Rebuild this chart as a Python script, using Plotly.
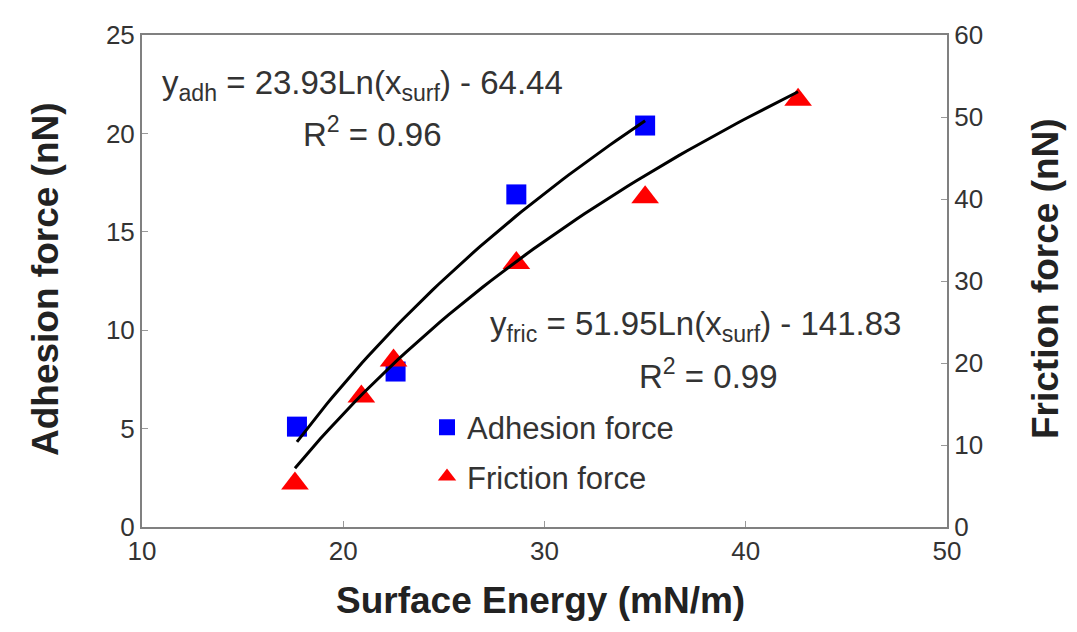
import numpy as np
import plotly.graph_objects as go

# Data
adh_x = [17.7, 22.6, 28.6, 35.0]
adh_y = [5.1, 7.9, 16.9, 20.4]          # left axis (nN)
fric_x = [17.6, 20.9, 22.5, 28.6, 35.0, 42.6]
fric_y = [5.3, 15.9, 20.3, 32.2, 40.2, 52.1]  # right axis (nN)

# Logarithmic trendline coefficients shown on the chart
adh_a, adh_b = 23.93, -64.44
fric_a, fric_b = 51.95, -141.83
adh_range = (17.7, 35.0)
fric_range = (17.6, 42.6)

x_ticks = [10, 20, 30, 40, 50]
y_ticks = [0, 5, 10, 15, 20, 25]
y2_ticks = [0, 10, 20, 30, 40, 50, 60]

xa = np.linspace(adh_range[0], adh_range[1], 60)
xf = np.linspace(fric_range[0], fric_range[1], 60)

# page body has an 8px margin; plot area in window pixels: x 142..947, y 33..527
PL, PR, PT, PB = 142, 947, 33, 527
W, H = 1061, 616
ml, mt = PL - 8, PT - 8
mr = W - ml - (PR - PL)
mb = H - mt - (PB - PT)


def px(xr, yr):
    return (xr - PL) / (PR - PL), (PB - yr) / (PB - PT)


fig = go.Figure()
fig.add_trace(go.Scatter(x=adh_x, y=adh_y, mode="markers", name="Adhesion force",
                         marker=dict(symbol="square", size=20, color="#0000FF"),
                         legendgroup="a"))
fig.add_trace(go.Scatter(x=fric_x, y=fric_y, mode="markers", name="Friction force",
                         marker=dict(symbol="triangle-up", size=24, color="#FF0000"),
                         yaxis="y2", legendgroup="b"))
fig.add_trace(go.Scatter(x=xa, y=adh_a * np.log(xa) + adh_b, mode="lines",
                         line=dict(color="black", width=3), showlegend=False))
fig.add_trace(go.Scatter(x=xf, y=fric_a * np.log(xf) + fric_b, mode="lines",
                         line=dict(color="black", width=3), showlegend=False, yaxis="y2"))

axis_common = dict(showline=True, linecolor="#808080", linewidth=2, ticks="inside",
                   ticklen=6, tickcolor="#999999", showgrid=False, zeroline=False,
                   tickfont=dict(family="Liberation Sans, Arial", size=26, color="#333333"))

lx, ly = px(427, 400)
fig.update_layout(
    width=W, height=H,
    margin=dict(l=ml, r=mr, t=mt, b=mb),
    paper_bgcolor="white", plot_bgcolor="white",
    font=dict(family="Liberation Sans, Arial", color="#222222"),
    xaxis=dict(range=[10, 50], tickvals=x_ticks, mirror=True, **axis_common),
    yaxis=dict(range=[0, 25], tickvals=y_ticks, **axis_common),
    yaxis2=dict(range=[0, 60], tickvals=y2_ticks, overlaying="y", side="right", **axis_common),
    showlegend=True,
    legend=dict(x=lx, y=ly, xanchor="left", yanchor="top",
                font=dict(size=31, color="#333333"), bgcolor="rgba(0,0,0,0)",
                traceorder="grouped", tracegroupgap=6),
)

ann_font = dict(family="Liberation Sans, Arial", size=33, color="#333333")
title_font = dict(family="Liberation Sans, Arial", size=37, color="#222222")
annotations = [
    (160, 83, "y<sub>adh</sub> = 23.93Ln(x<sub>surf</sub>) - 64.44", "left"),
    (372, 130, "R<sup>2</sup> = 0.96", "center"),
    (488, 325, "y<sub>fric</sub> = 51.95Ln(x<sub>surf</sub>) - 141.83", "left"),
    (708, 373, "R<sup>2</sup> = 0.99", "center"),
]
for xr, yr, txt, anc in annotations:
    ax_, ay_ = px(xr, yr)
    fig.add_annotation(x=ax_, y=ay_, xref="paper", yref="paper", text=txt, showarrow=False,
                       xanchor=anc, yanchor="middle", font=ann_font)

# axis titles
tx, ty = px(540, 623)
fig.add_annotation(x=tx, y=ty, xref="paper", yref="paper",
                   text="<b>Surface Energy (mN/m)</b>", showarrow=False, font=title_font,
                   xanchor="center", yanchor="bottom")
tx, ty = px(45, 278)
fig.add_annotation(x=tx, y=ty, xref="paper", yref="paper",
                   text="<b>Adhesion force (nN)</b>", showarrow=False, font=title_font,
                   textangle=-90, xanchor="center", yanchor="middle")
tx, ty = px(1045, 278)
fig.add_annotation(x=tx, y=ty, xref="paper", yref="paper",
                   text="<b>Friction force (nN)</b>", showarrow=False, font=title_font,
                   textangle=-90, xanchor="center", yanchor="middle")

fig.write_html("out.html")
